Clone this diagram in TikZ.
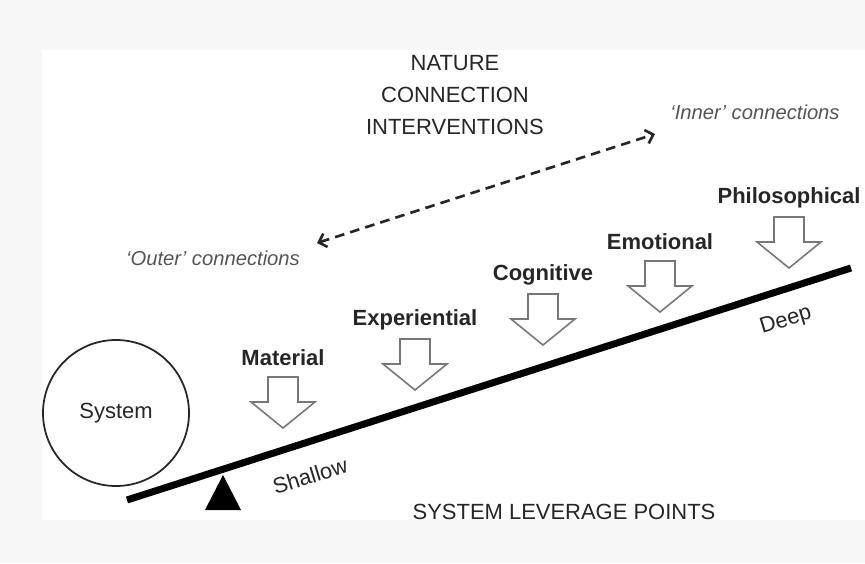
\documentclass[tikz,border=0pt]{standalone}
\usepackage{fontspec}
\setmainfont{Liberation Sans}
\usetikzlibrary{positioning,arrows.meta}

\definecolor{inkgrey}{HTML}{262626}
\definecolor{softgrey}{HTML}{555555}
\definecolor{edgegrey}{HTML}{777777}

\begin{document}
\begin{tikzpicture}[x=0.2mm,y=-0.2mm,
  lvl/.style={font=\fontsize{12.5}{14}\selectfont\bfseries,text=inkgrey},
  side/.style={font=\fontsize{11.5}{13}\selectfont\itshape,text=softgrey},
  plain/.style={font=\fontsize{12.5}{18.4}\selectfont,text=inkgrey},
  push/.style={draw=edgegrey,fill=white,line width=0.9pt,line join=miter}]
  \useasboundingbox (0,0) rectangle (865,563);
  \fill[black!3] (0,0) rectangle (865,563);
  \fill[white] (42,50) rectangle (865,520);

  % lever: system, beam and fulcrum
  \node[circle,draw=inkgrey,line width=1pt,minimum size=29.2mm,plain] (system) at (116,413) {System};
  \coordinate (beamL) at (127,500); \coordinate (beamR) at (851,268);
  \draw[line width=4pt] (beamL) -- (beamR);
  \fill (223,475) -- (241,510) -- (205,510) -- cycle;
  \node[plain,rotate=17,inner sep=1pt] (shallow) at (310,476) {Shallow};
  \node[plain,rotate=17,inner sep=1pt] (deep) at (786,321) {Deep};
  \node[plain] (leverage) at (564,512) {SYSTEM LEVERAGE POINTS};

  % interventions pushing on the beam
  \foreach \tx/\ty/\word in {283/428/Material,415/390/Experiential,543/345/Cognitive,
                             660/312/Emotional,789/268/Philosophical}{
    \draw[push] (\tx-15,\ty-51) -- (\tx+15,\ty-51) -- (\tx+15,\ty-26) -- (\tx+32,\ty-26)
      -- (\tx,\ty) -- (\tx-32,\ty-26) -- (\tx-15,\ty-26) -- cycle;
    \node[lvl] (\word) at (\tx,\ty-70) {\word};
  }

  % outer / inner
  \node[plain,align=center] (title) at (455,95) {NATURE\\CONNECTION\\INTERVENTIONS};
  \node[side] (inner) at (755,112) {`Inner' connections};
  \node[side] (outer) at (213,258) {`Outer' connections};
  \coordinate (outerEnd) at (317,243); \coordinate (innerEnd) at (655,134);
  \draw[{Straight Barb[length=4pt,width=8pt]}-{Straight Barb[length=4pt,width=8pt]},inkgrey,
    line width=1.5pt,dash pattern=on 5.5pt off 3.5pt] (outerEnd) -- (innerEnd);
\end{tikzpicture}
\end{document}
